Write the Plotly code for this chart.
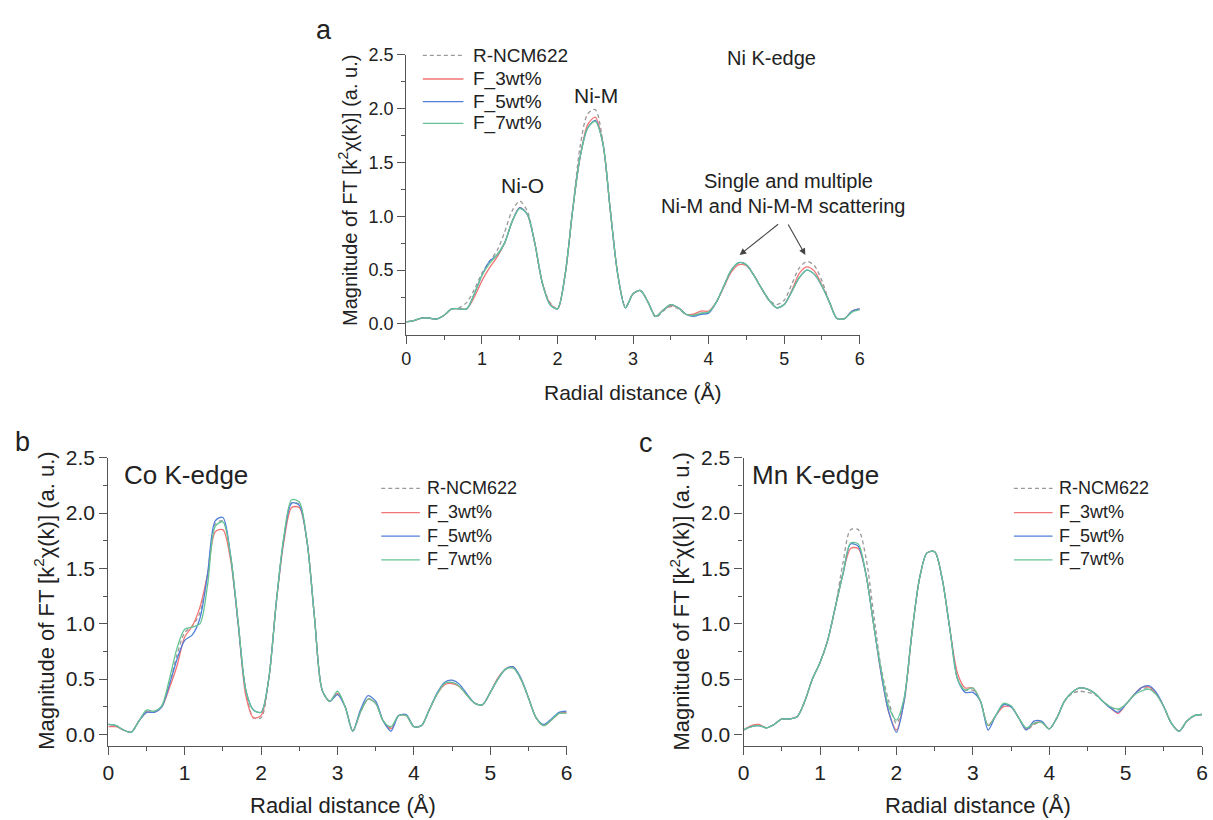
import plotly.graph_objects as go

# Radial distance grid (Å), shared by all spectra
r = [round(0.1 * i, 1) for i in range(61)]

# ---- Ni K-edge ----
ni_ref = [0.02, 0.03, 0.055, 0.055, 0.045, 0.08, 0.14, 0.15, 0.20, 0.32,
          0.47, 0.58, 0.68, 0.85, 1.05, 1.14, 1.05, 0.75, 0.38, 0.20,
          0.14, 0.45, 1.05, 1.65, 1.95, 1.99, 1.70, 1.05, 0.45, 0.16,
          0.28, 0.31, 0.20, 0.06, 0.12, 0.16, 0.14, 0.09, 0.08, 0.10,
          0.11, 0.20, 0.35, 0.50, 0.57, 0.55, 0.45, 0.33, 0.22, 0.18,
          0.22, 0.37, 0.52, 0.58, 0.54, 0.40, 0.20, 0.05, 0.05, 0.12, 0.14]
ni_3 = [0.02, 0.03, 0.055, 0.055, 0.045, 0.08, 0.14, 0.14, 0.14, 0.25,
        0.40, 0.52, 0.62, 0.75, 0.95, 1.08, 1.02, 0.75, 0.38, 0.19,
        0.14, 0.45, 1.05, 1.55, 1.85, 1.92, 1.68, 1.05, 0.45, 0.15,
        0.28, 0.31, 0.20, 0.07, 0.13, 0.17, 0.15, 0.09, 0.09, 0.12,
        0.12, 0.20, 0.34, 0.48, 0.55, 0.54, 0.45, 0.33, 0.22, 0.15,
        0.18, 0.31, 0.47, 0.53, 0.49, 0.36, 0.20, 0.05, 0.05, 0.12, 0.14]
ni_5 = [0.02, 0.03, 0.055, 0.055, 0.045, 0.08, 0.14, 0.14, 0.14, 0.28,
        0.45, 0.58, 0.64, 0.75, 0.95, 1.08, 1.02, 0.75, 0.38, 0.18,
        0.14, 0.45, 1.05, 1.55, 1.82, 1.89, 1.68, 1.05, 0.45, 0.15,
        0.28, 0.31, 0.20, 0.07, 0.13, 0.18, 0.15, 0.09, 0.07, 0.09,
        0.10, 0.20, 0.35, 0.50, 0.57, 0.55, 0.45, 0.33, 0.22, 0.15,
        0.18, 0.30, 0.43, 0.50, 0.46, 0.35, 0.20, 0.05, 0.05, 0.12, 0.14]
ni_7 = [0.02, 0.03, 0.055, 0.055, 0.045, 0.08, 0.14, 0.14, 0.14, 0.28,
        0.45, 0.56, 0.64, 0.75, 0.95, 1.07, 1.02, 0.75, 0.38, 0.18,
        0.14, 0.45, 1.05, 1.55, 1.82, 1.88, 1.68, 1.05, 0.45, 0.15,
        0.28, 0.31, 0.20, 0.07, 0.13, 0.18, 0.15, 0.09, 0.08, 0.10,
        0.11, 0.20, 0.35, 0.50, 0.57, 0.55, 0.45, 0.33, 0.22, 0.15,
        0.18, 0.30, 0.43, 0.50, 0.46, 0.35, 0.20, 0.05, 0.05, 0.11, 0.13]

# ---- Co K-edge ----
co_ref = [0.09, 0.08, 0.04, 0.02, 0.12, 0.21, 0.20, 0.25, 0.45, 0.72,
          0.92, 0.98, 1.10, 1.45, 1.90, 1.93, 1.60, 1.00, 0.40, 0.15,
          0.15, 0.50, 1.20, 1.78, 2.09, 2.08, 1.75, 1.05, 0.40, 0.30,
          0.37, 0.25, 0.03, 0.20, 0.32, 0.28, 0.12, 0.06, 0.17, 0.17,
          0.07, 0.08, 0.22, 0.36, 0.45, 0.47, 0.43, 0.35, 0.28, 0.27,
          0.38, 0.50, 0.59, 0.60, 0.50, 0.33, 0.15, 0.08, 0.13, 0.19, 0.20]
co_3 = [0.07, 0.07, 0.04, 0.02, 0.12, 0.20, 0.20, 0.25, 0.42, 0.62,
        0.88, 0.98, 1.15, 1.45, 1.83, 1.85, 1.58, 1.00, 0.35, 0.15,
        0.17, 0.50, 1.20, 1.75, 2.05, 2.05, 1.75, 1.05, 0.40, 0.30,
        0.37, 0.25, 0.03, 0.20, 0.32, 0.28, 0.12, 0.05, 0.17, 0.17,
        0.07, 0.08, 0.22, 0.36, 0.45, 0.46, 0.43, 0.35, 0.28, 0.27,
        0.38, 0.51, 0.59, 0.61, 0.50, 0.33, 0.15, 0.08, 0.13, 0.19, 0.20]
co_5 = [0.09, 0.08, 0.04, 0.02, 0.12, 0.20, 0.20, 0.25, 0.45, 0.68,
        0.85, 0.90, 1.05, 1.45, 1.93, 1.96, 1.62, 1.00, 0.40, 0.22,
        0.20, 0.50, 1.20, 1.78, 2.09, 2.07, 1.75, 1.05, 0.40, 0.30,
        0.36, 0.25, 0.03, 0.22, 0.35, 0.30, 0.12, 0.03, 0.17, 0.18,
        0.07, 0.08, 0.22, 0.37, 0.47, 0.49, 0.45, 0.36, 0.28, 0.27,
        0.38, 0.50, 0.59, 0.61, 0.51, 0.33, 0.15, 0.09, 0.14, 0.20, 0.21]
co_7 = [0.09, 0.08, 0.04, 0.02, 0.12, 0.22, 0.21, 0.26, 0.50, 0.78,
        0.95, 0.97, 1.00, 1.35, 1.88, 1.92, 1.62, 1.02, 0.40, 0.22,
        0.20, 0.50, 1.20, 1.80, 2.12, 2.10, 1.75, 1.05, 0.40, 0.30,
        0.39, 0.25, 0.03, 0.20, 0.32, 0.28, 0.12, 0.07, 0.17, 0.17,
        0.07, 0.08, 0.22, 0.36, 0.46, 0.47, 0.43, 0.35, 0.28, 0.27,
        0.38, 0.50, 0.59, 0.60, 0.50, 0.33, 0.15, 0.08, 0.13, 0.19, 0.19]

# ---- Mn K-edge ----
mn_ref = [0.04, 0.07, 0.08, 0.06, 0.09, 0.14, 0.14, 0.16, 0.30, 0.50,
          0.65, 0.85, 1.15, 1.55, 1.85, 1.85, 1.60, 1.10, 0.60, 0.30,
          0.10, 0.30, 0.90, 1.40, 1.64, 1.65, 1.40, 0.95, 0.50, 0.40,
          0.40, 0.30, 0.08, 0.17, 0.26, 0.25, 0.15, 0.04, 0.09, 0.11,
          0.05, 0.15, 0.30, 0.37, 0.39, 0.38, 0.36, 0.30, 0.25, 0.22,
          0.27, 0.35, 0.41, 0.42, 0.37, 0.25, 0.10, 0.03, 0.12, 0.17, 0.18]
mn_3 = [0.04, 0.08, 0.09, 0.06, 0.09, 0.14, 0.14, 0.16, 0.30, 0.50,
        0.65, 0.85, 1.15, 1.45, 1.68, 1.68, 1.45, 1.00, 0.55, 0.20,
        0.04, 0.30, 0.90, 1.40, 1.64, 1.65, 1.40, 0.95, 0.55, 0.42,
        0.42, 0.30, 0.08, 0.17, 0.25, 0.25, 0.15, 0.05, 0.10, 0.11,
        0.05, 0.15, 0.30, 0.38, 0.42, 0.41, 0.37, 0.30, 0.24, 0.19,
        0.27, 0.35, 0.42, 0.43, 0.37, 0.25, 0.10, 0.03, 0.12, 0.17, 0.18]
mn_5 = [0.04, 0.07, 0.08, 0.06, 0.09, 0.14, 0.14, 0.16, 0.30, 0.50,
        0.65, 0.85, 1.15, 1.45, 1.72, 1.70, 1.45, 1.00, 0.55, 0.20,
        0.02, 0.30, 0.90, 1.40, 1.64, 1.65, 1.40, 0.95, 0.50, 0.38,
        0.38, 0.30, 0.04, 0.17, 0.27, 0.25, 0.15, 0.04, 0.12, 0.12,
        0.05, 0.15, 0.30, 0.38, 0.42, 0.41, 0.37, 0.30, 0.24, 0.20,
        0.27, 0.35, 0.42, 0.44, 0.38, 0.25, 0.10, 0.03, 0.12, 0.17, 0.18]
mn_7 = [0.04, 0.07, 0.08, 0.06, 0.09, 0.14, 0.14, 0.16, 0.30, 0.50,
        0.65, 0.85, 1.15, 1.45, 1.73, 1.72, 1.45, 1.00, 0.58, 0.25,
        0.13, 0.33, 0.90, 1.40, 1.64, 1.65, 1.40, 0.95, 0.50, 0.40,
        0.42, 0.30, 0.08, 0.17, 0.28, 0.26, 0.15, 0.06, 0.10, 0.11,
        0.05, 0.15, 0.30, 0.38, 0.42, 0.41, 0.37, 0.30, 0.25, 0.23,
        0.27, 0.35, 0.39, 0.41, 0.36, 0.25, 0.10, 0.03, 0.12, 0.17, 0.18]

series_names = ["R-NCM622", "F_3wt%", "F_5wt%", "F_7wt%"]
series_colors = ["#9a9a9a", "#f27575", "#4f7fd8", "#66c494"]
series_dash = ["4px,3px", "solid", "solid", "solid"]

panels = [
    ("x", "y", [ni_ref, ni_3, ni_5, ni_7]),
    ("x2", "y2", [co_ref, co_3, co_5, co_7]),
    ("x3", "y3", [mn_ref, mn_3, mn_5, mn_7]),
]

FONT = "Arial, 'Liberation Sans', sans-serif"
W, H = 1213, 820

fig = go.Figure()
for xa, ya, data in panels:
    for name, color, dash, ys in zip(series_names, series_colors, series_dash, data):
        fig.add_trace(go.Scatter(
            x=r, y=ys, name=name, xaxis=xa, yaxis=ya, showlegend=False,
            mode="lines",
            line=dict(color=color, width=1.3, dash=dash, shape="spline", smoothing=0.8),
        ))


def px_x(p):
    return p / W


def px_y(p):
    return 1 - p / H


# plot-area boxes in pixels: (left, right, top, bottom)
boxes = [(404.3, 862.3, 43.3, 327.5), (103.3, 566.3, 452.3, 744.4), (745.0, 1208.0, 452.3, 744.4)]
tick_sizes = [18, 21, 21]


def axis_style(size, dtick, minor_dtick):
    return dict(
        showline=True, linecolor="#555", linewidth=1.3,
        ticks="outside", ticklen=8, tickwidth=1.3, tickcolor="#555",
        minor=dict(ticks="outside", ticklen=4, tickwidth=1.2, tickcolor="#555", dtick=minor_dtick),
        showgrid=False, zeroline=False, mirror=False,
        tickfont=dict(family=FONT, size=size, color="#222"),
        dtick=dtick,
    )


layout = dict(
    width=W, height=H,
    margin=dict(l=0, r=0, t=0, b=0),
    paper_bgcolor="white", plot_bgcolor="white",
    font=dict(family=FONT, color="#222"),
    showlegend=False,
)
for i, (l, rr, t, b) in enumerate(boxes):
    sfx = "" if i == 0 else str(i + 1)
    xa = axis_style(tick_sizes[i], 1, 0.5)
    xa.update(domain=[px_x(l), px_x(rr)], range=[0, 6], anchor="y" + sfx, tick0=0)
    ya = axis_style(tick_sizes[i], 0.5, 0.25)
    ya.update(domain=[px_y(b), px_y(t)], range=[-0.1, 2.5], anchor="x" + sfx, tick0=0,
              tickformat=".1f")
    layout["xaxis" + sfx] = xa
    layout["yaxis" + sfx] = ya
fig.update_layout(**layout)


def label(x, y, text, size, angle=0, xanchor="center"):
    fig.add_annotation(x=px_x(x), y=px_y(y), xref="paper", yref="paper", text=text,
                       showarrow=False, textangle=angle, xanchor=xanchor, yanchor="middle",
                       font=dict(family=FONT, size=size, color="#222"))


# legend keys: line sample + label for each series, per panel
legend_specs = [
    (421, 462, 470, [44, 68, 91, 113], 19),
    (379, 418, 423, [483.5, 508, 532, 556], 18),
    (1018, 1057, 1061, [483.5, 508, 532, 556], 18),
]
for x0, x1, tx, rows, fs in legend_specs:
    for name, color, dash, ry in zip(series_names, series_colors, series_dash, rows):
        fig.add_shape(type="line", xref="paper", yref="paper",
                      x0=px_x(x0), x1=px_x(x1), y0=px_y(ry), y1=px_y(ry),
                      line=dict(color=color, width=1.3, dash=dash))
        label(tx, ry, name, fs, xanchor="left")

ytitle = "Magnitude of FT [k<sup>2</sup>χ(k)] (a. u.)"
label(345, 181, ytitle, 20, -90)
label(39, 598, ytitle, 22, -90)
label(681, 598, ytitle, 22, -90)
label(633, 386, "Radial distance (Å)", 21)
label(340, 805, "Radial distance (Å)", 22)
label(982, 805, "Radial distance (Å)", 22)

label(321, 18, "a", 27)
label(17, 436, "b", 27)
label(646, 437, "c", 27)

label(522, 176, "Ni-O", 21)
label(596, 85, "Ni-M", 21)
label(773, 47, "Ni K-edge", 20)
label(790, 172, "Single and multiple", 20)
label(785, 197, "Ni-M and Ni-M-M scattering", 20)
label(182, 470, "Co K-edge", 26)
label(818, 470, "Mn K-edge", 26)

# arrows pointing to the outer-shell peaks
for tip_x, ax in [(4.41, 40), (5.28, -18)]:
    fig.add_annotation(x=tip_x, y=0.64, xref="x", yref="y", text="", showarrow=True,
                       ax=ax, ay=-32, arrowhead=2, arrowsize=1.2, arrowwidth=1.1,
                       arrowcolor="#444")

fig.write_html("out.html")
